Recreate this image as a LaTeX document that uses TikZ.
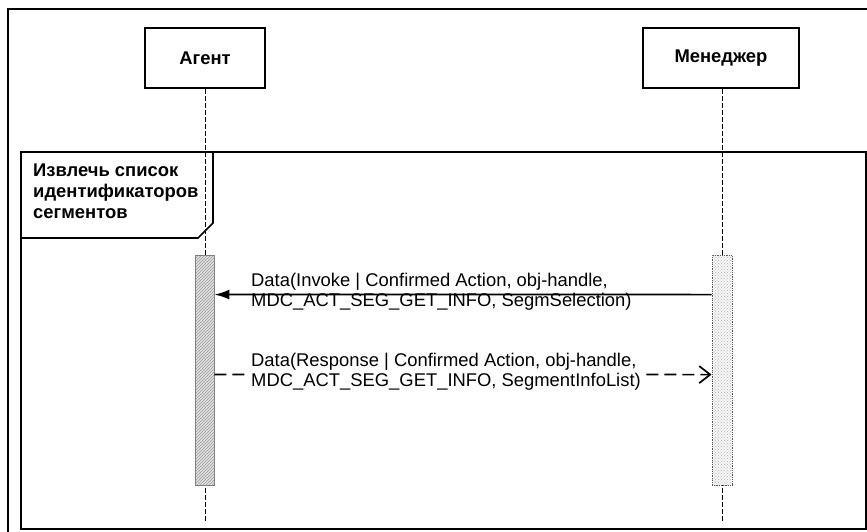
\documentclass[tikz,border=0pt]{standalone}
\usepackage{fontspec}
\setmainfont{Liberation Sans}
\usetikzlibrary{arrows.meta, positioning, patterns}
\tikzset{
    every node/.style={font=\fontsize{18.4}{20}\selectfont}, % text of the messages
    actor/.style={draw, line width=1.4pt, minimum height=60pt, font=\fontsize{18.4}{20}\selectfont\bfseries}, % boxes on top
    lifeline/.style={dash pattern=on 5pt off 2pt, line width=0.8pt}, % dashed life lines
    agentbar/.style={draw=gray, line width=0.9pt, preaction={fill=gray!25}, pattern=north east lines, pattern color=gray!75, minimum width=19pt, minimum height=230pt, inner sep=0pt},
    managerbar/.style={draw=gray!70!black, densely dotted, line width=0.8pt, preaction={fill=gray!8}, pattern=crosshatch dots, pattern color=gray!55, minimum width=20pt, minimum height=230pt, inner sep=0pt},
    call/.style={-{Latex[length=15pt,width=10pt]}, line width=1.7pt}, % solid message
    reply/.style={-{Straight Barb[length=11pt,width=17pt,line width=1.7pt]}, dash pattern=on 12pt off 6pt, line width=1.7pt}, % dashed answer
    msglabel/.style={align=left, anchor=west, inner sep=1pt},
    frameline/.style={line width=1.6pt},
}

\begin{document}
\begin{tikzpicture}[x=1pt, y=-1pt]
    \useasboundingbox (0,0) rectangle (867,532);
    % outer frame and fragment
    \draw[line width=2pt] (8,560) -- (8,9) -- (890,9);
    \draw[frameline] (21,152) rectangle (866,529);
    \draw[frameline] (21,152) -- (213,152) -- (213,223) -- (198,238) -- (21,238);
    \node[anchor=north west, align=left, inner sep=0pt, font=\fontsize{18.4}{21}\selectfont\bfseries] (fraglabel) at (33,164) {Извлечь список\\идентификаторов\\сегментов};

    % participants
    \node[actor, minimum width=120pt] (agent) at (205,58) {Агент};
    \node[actor, minimum width=156pt] (manager) at (721,58) {Менеджер};
    \coordinate (agentend) at (205,522);
    \coordinate (managerend) at (722,522);
    \draw[lifeline] (agent.south) -- (agentend);
    \draw[lifeline] (manager.south -| managerend) -- (managerend);

    % activations
    \node[agentbar] (agentact) at (204.5,370) {};
    \node[managerbar] (manageract) at (722,370) {};

    % messages
    \node[msglabel] (invoke) at (250,292) {Data(Invoke | Confirmed Action, obj-handle,\\MDC\_ACT\_SEG\_GET\_INFO, SegmSelection)};
    \draw[call] ([yshift=-40pt]manageract.north west) -- ([yshift=-40pt]agentact.north east);

    \draw[reply] ([yshift=-120pt]agentact.north east) -- ([yshift=-120pt]manageract.north west);
    \node[msglabel, fill=white] (response) at (250,372) {Data(Response | Confirmed Action, obj-handle,\\MDC\_ACT\_SEG\_GET\_INFO, SegmentInfoList)};
\end{tikzpicture}
\end{document}
